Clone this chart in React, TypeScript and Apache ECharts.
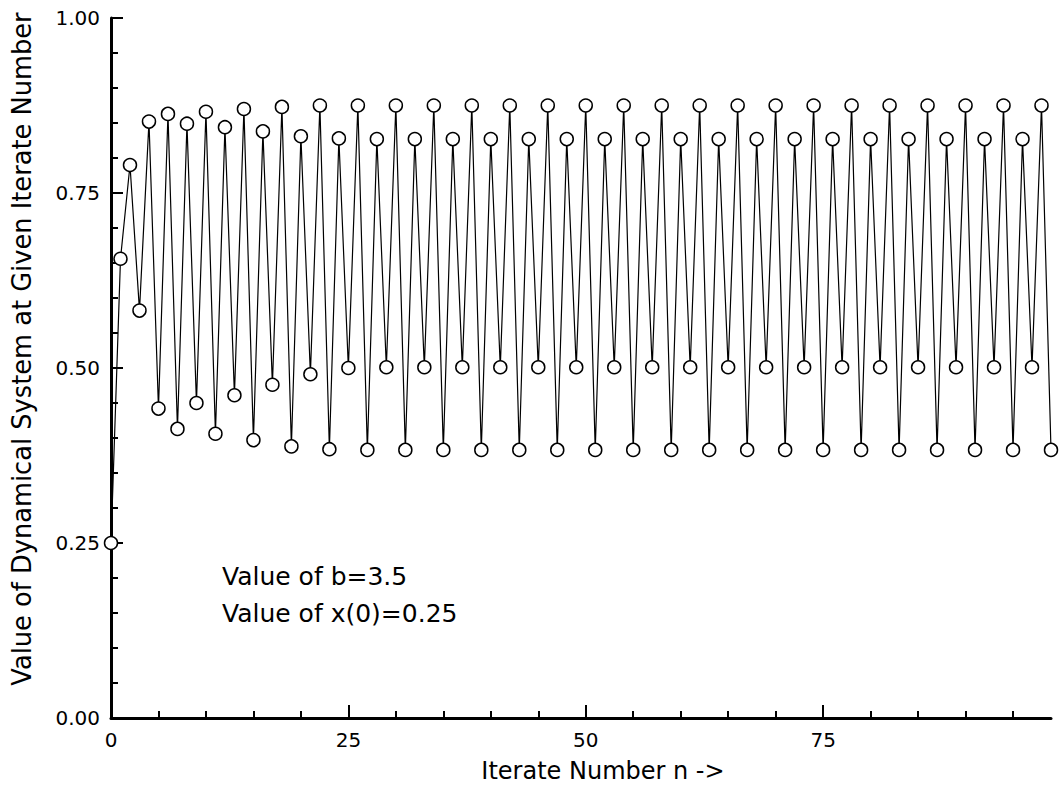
import React, { useEffect, useRef } from "react";
import * as echarts from "echarts";

// Tick labels / tick positions
const xTickLabels = [0, 25, 50, 75];
const xMinorTicks = [5, 10, 15, 20, 30, 35, 40, 45, 55, 60, 65, 70, 80, 85, 90, 95];
const yTickLabels = [0, 0.25, 0.5, 0.75, 1.0];

// Value of the dynamical system at each iterate n = 0..99
const values = [
  0.25, 0.656, 0.79, 0.582, 0.852, 0.442, 0.863, 0.413, 0.849, 0.45,
  0.866, 0.406, 0.844, 0.461, 0.87, 0.397, 0.838, 0.476, 0.873, 0.388,
  0.831, 0.491, 0.875, 0.384, 0.828, 0.5, 0.875, 0.383, 0.827, 0.501,
  0.875, 0.383, 0.827, 0.501, 0.875, 0.383, 0.827, 0.501, 0.875, 0.383,
  0.827, 0.501, 0.875, 0.383, 0.827, 0.501, 0.875, 0.383, 0.827, 0.501,
  0.875, 0.383, 0.827, 0.501, 0.875, 0.383, 0.827, 0.501, 0.875, 0.383,
  0.827, 0.501, 0.875, 0.383, 0.827, 0.501, 0.875, 0.383, 0.827, 0.501,
  0.875, 0.383, 0.827, 0.501, 0.875, 0.383, 0.827, 0.501, 0.875, 0.383,
  0.827, 0.501, 0.875, 0.383, 0.827, 0.501, 0.875, 0.383, 0.827, 0.501,
  0.875, 0.383, 0.827, 0.501, 0.875, 0.383, 0.827, 0.501, 0.875, 0.383,
];

const annotationLines = ["Value of b=3.5", "Value of x(0)=0.25"];
const xTitle = "Iterate Number n ->";
const yTitle = "Value of Dynamical System at Given Iterate Number";

export default function App() {
  const ref = useRef<HTMLDivElement>(null);

  useEffect(() => {
    if (!ref.current) return;
    const chart = echarts.init(ref.current, null, { renderer: "svg" });
    const font = "DejaVu Sans";
    const data = values.map((v, i) => [i, v]);
    const axisLineStyle = { color: "#000", width: 3 };
    const tickStyle = { color: "#000", width: 2 };

    chart.setOption({
      animation: false,
      backgroundColor: "#ffffff",
      grid: { left: 111, top: 18, width: 940, height: 700, containLabel: false },
      xAxis: [
        {
          type: "value",
          min: 0,
          max: 99,
          axisLine: { show: true, lineStyle: axisLineStyle },
          axisTick: { show: true, inside: true, length: 13, lineStyle: tickStyle, customValues: xTickLabels },
          axisLabel: {
            customValues: xTickLabels,
            color: "#000",
            fontFamily: font,
            fontSize: 20,
            margin: 12,
          },
          splitLine: { show: false },
        },
        {
          type: "value",
          min: 0,
          max: 99,
          position: "bottom",
          axisLine: { show: false },
          axisTick: { show: true, inside: true, length: 7, lineStyle: tickStyle, customValues: xMinorTicks },
          axisLabel: { show: false },
          splitLine: { show: false },
        },
      ],
      yAxis: {
        type: "value",
        min: 0,
        max: 1,
        interval: 0.25,
        axisLine: { show: true, lineStyle: axisLineStyle },
        axisTick: { show: true, inside: true, length: 12, lineStyle: tickStyle },
        minorTick: { show: true, splitNumber: 5, length: 7, lineStyle: tickStyle },
        axisLabel: {
          customValues: yTickLabels,
          formatter: (v: number) => v.toFixed(2),
          color: "#000",
          fontFamily: font,
          fontSize: 20,
          margin: 11,
        },
        splitLine: { show: false },
      },
      series: [
        {
          type: "line",
          data,
          xAxisIndex: 0,
          yAxisIndex: 0,
          symbol: "circle",
          symbolSize: 13,
          showAllSymbol: true,
          clip: false,
          lineStyle: { color: "#000", width: 1.2 },
          itemStyle: { color: "#fff", borderColor: "#000", borderWidth: 1.5 },
          z: 3,
        },
      ],
      graphic: [
        {
          type: "text",
          x: 22,
          y: 349,
          rotation: Math.PI / 2,
          style: {
            text: yTitle,
            font: `25.7px "${font}"`,
            fill: "#000",
            align: "center",
            verticalAlign: "middle",
          },
        },
        {
          type: "text",
          x: 603,
          y: 771,
          style: {
            text: xTitle,
            font: `24px "${font}"`,
            fill: "#000",
            align: "center",
            verticalAlign: "middle",
          },
        },
        ...annotationLines.map((t, i) => ({
          type: "text",
          x: 222,
          y: 576 + i * 37,
          style: {
            text: t,
            font: `25px "${font}"`,
            fill: "#000",
            align: "left",
            verticalAlign: "middle",
          },
        })),
      ],
    });

    return () => chart.dispose();
  }, []);

  return (
    <div
      ref={ref}
      style={{ position: "absolute", left: 0, top: 0, width: 1060, height: 794 }}
    />
  );
}
